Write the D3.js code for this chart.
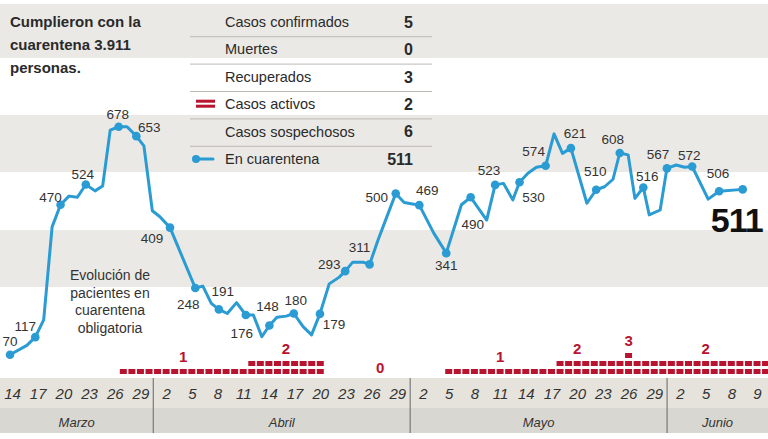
<!DOCTYPE html>
<html>
<head>
<meta charset="utf-8">
<script src="https://cdn.jsdelivr.net/npm/d3@7"></script>
<style>
  body { margin: 0; background: #fff; }
  svg { display: block; font-family: "Liberation Sans", Arial, sans-serif; }
</style>
</head>
<body>
<svg id="chart" width="768" height="439"></svg>
<script>
// ---------- DATA ----------
// Day position (0 = 14 de marzo) and value of each vertex of the quarantine line
const lineDays = [0,2,3,4,5,6,7,8,9,10.1,11,11.9,12.9,13.9,15,15.9,16.9,17.8,19,22,22.9,23.9,24.8,25.8,26.9,28,28.9,29.9,30.8,31.7,32.8,33.7,34.8,35.8,36.8,37.9,39.1,39.8,40.7,41.9,42.7,43.7,44.9,45.8,46.8,47.8,48.6,50.3,51.8,53.6,54.7,56.6,57.6,58.6,59.7,60.5,61.5,62.5,63.6,64.6,65.6,66.6,68.5,69.6,70.6,71.6,72.4,73.4,74.2,75.2,75.9,77.2,78,79.1,80.1,81,82.9,84.2,87];
const lineValues = [70,95,117,163,411,470,493,490,524,507,520,669,678,678,653,627,454,438,409,248,253,207,191,180,209,176,176,118,148,170,173,180,145,123,179,259,277,293,317,317,311,376,447,500,476,472,469,395,341,470,490,429,523,527,483,530,554,570,574,659,607,621,474,510,518,538,608,603,487,516,443,456,567,576,570,572,485,506,511];
// Labelled (dotted) vertices
const dotDays = [0,3,6,9,12.9,15,19,22,24.8,28,30.8,33.7,36.8,39.8,42.7,45.8,48.6,51.8,54.7,57.6,60.5,63.6,66.6,69.6,72.4,75.2,78,81,84.2,87];

// Casos activos per day (0 = 14 de marzo)
const activeCases = [0,0,0,0,0,0,0,0,0,0,0,0,0,
  1,1,1,1,1,1,1,1,1,1,1,1,1,1,1,
  2,2,2,2,2,2,2,2,2,
  0,0,0,0,0,0,0,0,0,0,0,0,0,0,
  1,1,1,1,1,1,1,1,1,1,1,1,1,
  2,2,2,2,2,2,2,2,
  3,
  2,2,2,2,2,2,2,2,2,2,2,2,2,2,2,2];
const activeLabelDays = [20,32,43,57,66,72,81];
const activeLabelValues = [1,2,0,1,2,3,2];

// Axis
const tickLabels = ["14","17","20","23","26","29","2","5","8","11","14","17","20","23","26","29","2","5","8","11","14","17","20","23","26","29","2","5","8","9"];
const monthNames = ["Marzo","Abril","Mayo","Junio"];
const monthBreaks = [16.5, 46.5, 76.5];

// Summary table
const tableLabels = ["Casos confirmados","Muertes","Recuperados","Casos activos","Casos sospechosos","En cuarentena"];
const tableValues = ["5","0","3","2","6","511"];

const titleLines = ["Cumplieron con la","cuarentena 3.911","personas."];
const noteLines = ["Evolución de","pacientes en","cuarentena","obligatoria"];

// ---------- LAYOUT ----------
// label offsets (text centre relative to dot), one per dot
const labelOffsets = [[0,-14],[-10,-11],[-10,-8],[-3,-10],[-1,-13],[13,-9],[-18,11],[-7,16],[4,-18],[-4,18],[-2,-19],[2,-13],[14,10],[-16,-7],[-10,-17],[-19,4],[8,-15],[0,12],[2,27],[-6,-15],[14,15],[-12,-15],[4,-15],[-1,-19],[-7,-14],[4,-11],[-9,-14],[-3,-11],[-1,-18],[-6,30]];

const BLUE = "#2b9bd3", RED = "#b8132f", INK = "#2a2a2a";
const W = 768, H = 439;
const svg = d3.select("#chart");

const x = d3.scaleLinear().domain([0, 87]).range([10, 742.7]);
const y = d3.scaleLinear().domain([0, 700]).range([381, 118.5]);
const axisX = d3.scaleLinear().domain([0, 87]).range([12, 757]);

// background stripes
const stripes = [[4,58],[115,172],[230,287]];
svg.selectAll("rect.stripe").data(stripes).enter().append("rect")
  .attr("x", 0).attr("width", W)
  .attr("y", d => d[0]).attr("height", d => d[1]-d[0])
  .attr("fill", "#ebe9e5");

// title
svg.append("text").attr("x", 10).attr("y", 27)
  .attr("font-size", 15).attr("font-weight", "bold").attr("fill", INK)
  .selectAll("tspan").data(titleLines).enter().append("tspan")
  .attr("x", 10).attr("dy", (d,i) => i ? 23 : 0).text(d => d);

// table
const rowY = d3.scalePoint().domain(d3.range(tableLabels.length)).range([22, 159]);
const table = svg.append("g");
table.selectAll("line").data(d3.range(tableLabels.length-1)).enter().append("line")
  .attr("x1", 190).attr("x2", 432)
  .attr("y1", i => (rowY(i)+rowY(i+1))/2 + 1).attr("y2", i => (rowY(i)+rowY(i+1))/2 + 1)
  .attr("stroke", "#bdbbb6").attr("stroke-width", 1);
table.selectAll("text.lab").data(tableLabels).enter().append("text")
  .attr("x", 225).attr("y", (d,i) => rowY(i)).attr("dy", "0.35em")
  .attr("font-size", 14.5).attr("fill", INK).text(d => d);
table.selectAll("text.val").data(tableValues).enter().append("text")
  .attr("x", 413).attr("y", (d,i) => rowY(i)).attr("dy", "0.36em")
  .attr("text-anchor", "end").attr("font-size", 16).attr("font-weight", "bold")
  .attr("fill", INK).text(d => d);
// legend icons
const ya = rowY(3);
table.append("rect").attr("x", 196).attr("y", ya-4.5).attr("width", 19).attr("height", 3).attr("fill", RED);
table.append("rect").attr("x", 196).attr("y", ya+0.5).attr("width", 19).attr("height", 3).attr("fill", RED);
const yq = rowY(5);
table.append("line").attr("x1", 196).attr("x2", 213).attr("y1", yq).attr("y2", yq)
  .attr("stroke", BLUE).attr("stroke-width", 3).attr("stroke-linecap", "round");
table.append("circle").attr("cx", 196).attr("cy", yq).attr("r", 4).attr("fill", BLUE);

// note text
svg.append("text").attr("text-anchor", "middle").attr("font-size", 14).attr("fill", "#333")
  .selectAll("tspan").data(noteLines).enter().append("tspan")
  .attr("x", 110).attr("y", (d,i) => 280 + i*17.5).text(d => d);

// line
const pts = lineDays.map((d,i) => [d, lineValues[i]]);
svg.append("path").datum(pts)
  .attr("d", d3.line().x(d => x(d[0])).y(d => y(d[1])))
  .attr("fill", "none").attr("stroke", BLUE).attr("stroke-width", 3)
  .attr("stroke-linejoin", "round").attr("stroke-linecap", "round");

const dots = dotDays.map(d => [d, lineValues[lineDays.indexOf(d)]]);
svg.selectAll("circle.dot").data(dots).enter().append("circle")
  .attr("cx", d => x(d[0])).attr("cy", d => y(d[1])).attr("r", 4.3).attr("fill", BLUE);

svg.selectAll("text.dl").data(dots).enter().append("text")
  .attr("x", (d,i) => x(d[0]) + labelOffsets[i][0])
  .attr("y", (d,i) => y(d[1]) + labelOffsets[i][1])
  .attr("dy", "0.36em").attr("text-anchor", "middle")
  .attr("font-size", (d,i) => i === dots.length-1 ? 34 : 13.5)
  .attr("font-weight", (d,i) => i === dots.length-1 ? "bold" : "normal")
  .attr("font-family", (d,i) => i === dots.length-1 ? "'Liberation Sans Narrow', 'Liberation Sans', sans-serif" : null)
  .attr("letter-spacing", (d,i) => i === dots.length-1 ? -1 : 0)
  .attr("fill", (d,i) => i === dots.length-1 ? "#111" : "#333")
  .text(d => d[1]);

// active cases squares
const sq = [];
activeCases.forEach((n, i) => { for (let k = 0; k < n; k++) sq.push([i, k]); });
svg.selectAll("rect.sq").data(sq).enter().append("rect")
  .attr("x", d => axisX(d[0]) - 3.5).attr("y", d => 369 - d[1]*8)
  .attr("width", 7).attr("height", 5).attr("fill", RED);
svg.selectAll("text.al").data(activeLabelDays).enter().append("text")
  .attr("x", d => axisX(d))
  .attr("y", (d,i) => activeLabelValues[i] === 0 ? 368 : 369 - (activeLabelValues[i]-1)*8 - 12)
  .attr("dy", "0.36em").attr("text-anchor", "middle")
  .attr("font-size", 15).attr("font-weight", "bold").attr("fill", RED)
  .text((d,i) => activeLabelValues[i]);

// axis band
svg.append("rect").attr("x", 0).attr("y", 378).attr("width", W).attr("height", 30).attr("fill", "#e6e3dc");
svg.append("rect").attr("x", 0).attr("y", 408).attr("width", W).attr("height", 25).attr("fill", "#d9d7d1");

const axis = d3.axisBottom(axisX)
  .tickValues(tickLabels.map((d,i) => i*3))
  .tickFormat((d,i) => tickLabels[i]).tickSize(0).tickPadding(0);
const gA = svg.append("g").attr("transform", "translate(0,388)").call(axis);
gA.select(".domain").remove();
gA.selectAll("text").attr("font-size", 15).attr("font-style", "italic")
  .attr("fill", "#333").attr("font-family", "'Liberation Sans', Arial, sans-serif");

svg.selectAll("line.sep").data(monthBreaks).enter().append("line")
  .attr("x1", d => axisX(d)).attr("x2", d => axisX(d))
  .attr("y1", 378).attr("y2", 433).attr("stroke", "#7a7a7a").attr("stroke-width", 1.2);

const bounds = [axisX.invert(0), ...monthBreaks, axisX.invert(W)];
svg.selectAll("text.month").data(monthNames).enter().append("text")
  .attr("x", (d,i) => (axisX(bounds[i]) + axisX(bounds[i+1]))/2)
  .attr("y", 427).attr("text-anchor", "middle")
  .attr("font-size", 13).attr("font-style", "italic").attr("fill", "#333")
  .text(d => d);
</script>
</body>
</html>
